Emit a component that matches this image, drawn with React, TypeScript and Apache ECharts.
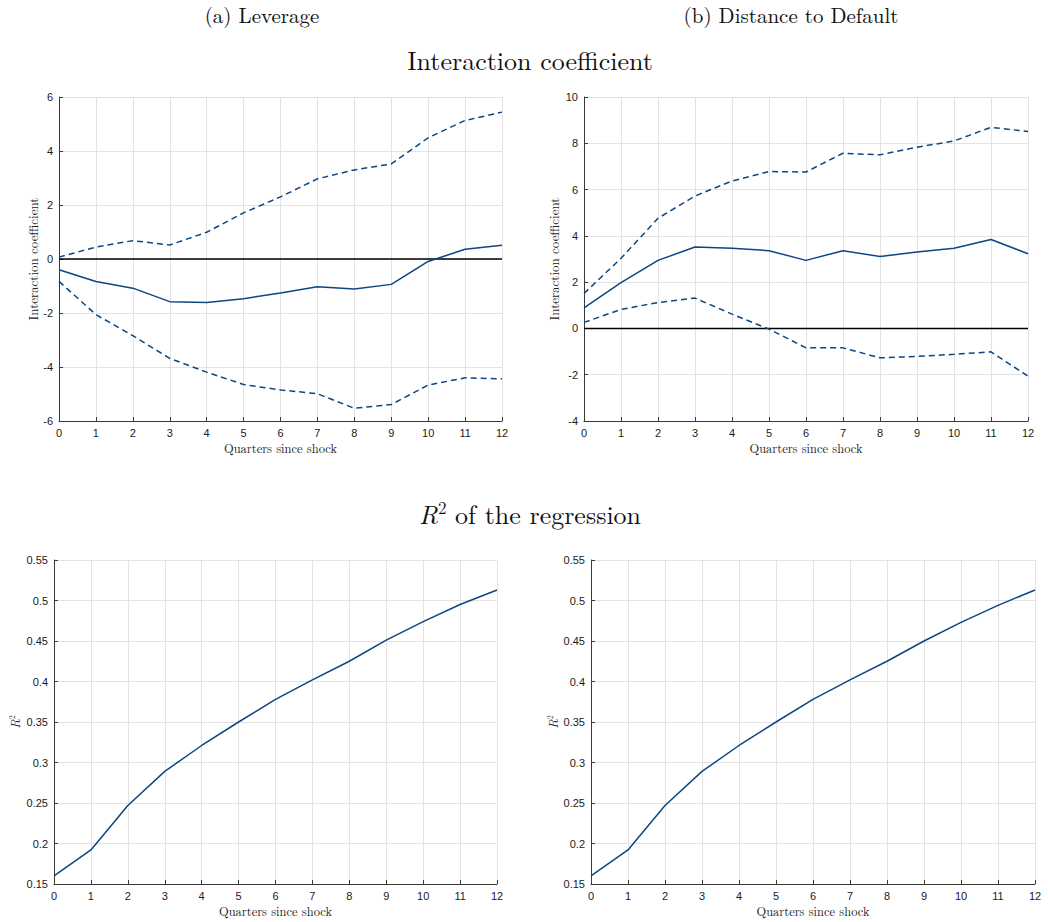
import React, { useEffect, useRef } from "react";
import * as echarts from "echarts";

const quarters = [0, 1, 2, 3, 4, 5, 6, 7, 8, 9, 10, 11, 12];

const levCoef = [-0.4, -0.83, -1.08, -1.58, -1.61, -1.47, -1.26, -1.03, -1.11, -0.94, -0.09, 0.36, 0.51];
const levUpper = [0.07, 0.44, 0.68, 0.52, 0.99, 1.71, 2.3, 2.97, 3.3, 3.52, 4.49, 5.13, 5.44];
const levLower = [-0.83, -2.06, -2.84, -3.68, -4.19, -4.65, -4.85, -4.99, -5.53, -5.39, -4.67, -4.4, -4.44];

const ddCoef = [0.89, 1.98, 2.94, 3.52, 3.46, 3.36, 2.94, 3.36, 3.11, 3.3, 3.46, 3.84, 3.23];
const ddUpper = [1.51, 3.03, 4.76, 5.72, 6.37, 6.78, 6.76, 7.57, 7.5, 7.83, 8.1, 8.69, 8.51];
const ddLower = [0.26, 0.82, 1.12, 1.31, 0.62, -0.03, -0.84, -0.84, -1.27, -1.21, -1.12, -1.01, -2.06];

const levR2 = [0.16, 0.192, 0.247, 0.289, 0.321, 0.35, 0.378, 0.402, 0.425, 0.451, 0.474, 0.495, 0.513];
const ddR2 = [0.16, 0.192, 0.247, 0.289, 0.321, 0.35, 0.378, 0.402, 0.425, 0.45, 0.473, 0.494, 0.513];

const panelTitles = ["(a) Leverage", "(b) Distance to Default"];
const xName = "Quarters since shock";
const coefName = "Interaction coefficient";

const BLUE = "#0d4682";
const SERIF = "'Latin Modern Roman', 'CMU Serif', 'DejaVu Serif', serif";
const SANS = "'Liberation Sans', Arial, Helvetica, sans-serif";

function pairs(vals: number[]) {
  return quarters.map((q, i) => [q, vals[i]]);
}

export default function App() {
  const ref = useRef<HTMLDivElement>(null);
  useEffect(() => {
    if (!ref.current) return;
    const chart = echarts.init(ref.current, null, { renderer: "svg" });

    const grids = [
      { left: 59, top: 97, width: 443, height: 324 },
      { left: 584, top: 97, width: 444, height: 324 },
      { left: 54, top: 560, width: 443, height: 324 },
      { left: 591, top: 560, width: 444, height: 324 },
    ];

    const xAxes = grids.map((_, i) => ({
      type: "value",
      gridIndex: i,
      min: 0,
      max: 12,
      interval: 1,
      name: xName,
      nameLocation: "middle",
      nameGap: 20,
      nameTextStyle: { fontFamily: SERIF, fontSize: 12.5, color: "#222", lineHeight: 13 },
      axisLine: { show: true, onZero: false, lineStyle: { color: "#3a3a3a", width: 1 } },
      axisTick: { show: true, inside: true, length: 4, lineStyle: { color: "#3a3a3a" } },
      axisLabel: { fontFamily: SANS, fontSize: 11, color: "#1a1a1a", margin: 6, lineHeight: 12 },
      splitLine: { show: true, lineStyle: { color: "#e3e3e3", width: 1 } },
    }));

    const yCommon = {
      type: "value",
      axisLine: { show: true, lineStyle: { color: "#3a3a3a", width: 1 } },
      axisTick: { show: true, inside: true, length: 4, lineStyle: { color: "#3a3a3a" } },
      axisLabel: { fontFamily: SANS, fontSize: 11, color: "#1a1a1a", margin: 6 },
      splitLine: { show: true, lineStyle: { color: "#e3e3e3", width: 1 } },
      nameLocation: "middle",
    };

    const r2Name = "{i|R}{s|2}";
    const r2Rich = {
      i: { fontFamily: SERIF, fontStyle: "italic", fontSize: 13, color: "#222" },
      s: { fontFamily: SERIF, fontSize: 8, color: "#222", verticalAlign: "top", padding: [0, 0, 7, 0] },
    };

    const yAxes = [
      { ...yCommon, gridIndex: 0, min: -6, max: 6, interval: 2, name: coefName, nameGap: 20,
        nameTextStyle: { fontFamily: SERIF, fontSize: 13, color: "#222" } },
      { ...yCommon, gridIndex: 1, min: -4, max: 10, interval: 2, name: coefName, nameGap: 24,
        nameTextStyle: { fontFamily: SERIF, fontSize: 13, color: "#222" } },
      { ...yCommon, gridIndex: 2, min: 0.15, max: 0.55, interval: 0.05, name: r2Name, nameGap: 32,
        nameTextStyle: { rich: r2Rich } },
      { ...yCommon, gridIndex: 3, min: 0.15, max: 0.55, interval: 0.05, name: r2Name, nameGap: 31,
        nameTextStyle: { rich: r2Rich } },
    ];

    const solid = (idx: number, data: number[]) => ({
      type: "line",
      xAxisIndex: idx,
      yAxisIndex: idx,
      data: pairs(data),
      showSymbol: false,
      symbol: "none",
      lineStyle: { color: BLUE, width: 1.5 },
      z: 3,
    });
    const dashed = (idx: number, data: number[]) => ({
      type: "line",
      xAxisIndex: idx,
      yAxisIndex: idx,
      data: pairs(data),
      showSymbol: false,
      symbol: "none",
      lineStyle: { color: BLUE, width: 1.5, type: [6, 4] },
      z: 3,
    });
    const zeroLine = (idx: number) => ({
      type: "line",
      xAxisIndex: idx,
      yAxisIndex: idx,
      data: [[0, 0], [12, 0]],
      showSymbol: false,
      symbol: "none",
      lineStyle: { color: "#000", width: 1.5 },
      z: 2,
    });

    const series = [
      zeroLine(0),
      dashed(0, levUpper),
      solid(0, levCoef),
      dashed(0, levLower),
      zeroLine(1),
      dashed(1, ddUpper),
      solid(1, ddCoef),
      dashed(1, ddLower),
      solid(2, levR2),
      solid(3, ddR2),
    ];

    chart.setOption({
      animation: false,
      backgroundColor: "#fff",
      grid: grids,
      xAxis: xAxes,
      yAxis: yAxes,
      series,
      graphic: [
        { type: "text", x: 262, y: 14, style: { text: panelTitles[0], font: `21px ${SERIF}`, fill: "#111", textAlign: "center", textVerticalAlign: "middle" } },
        { type: "text", x: 791, y: 14, style: { text: panelTitles[1], font: `21px ${SERIF}`, fill: "#111", textAlign: "center", textVerticalAlign: "middle" } },
        { type: "text", x: 530, y: 59, style: { text: "Interaction coefficient", font: `26px ${SERIF}`, fill: "#111", textAlign: "center", textVerticalAlign: "middle" } },
        {
          type: "text",
          x: 530,
          y: 513,
          style: {
            text: "{i|R}{s|2}{n| of the regression}",
            textAlign: "center",
            textVerticalAlign: "middle",
            fill: "#111",
            rich: {
              i: { fontFamily: SERIF, fontStyle: "italic", fontSize: 26, fill: "#111" },
              s: { fontFamily: SERIF, fontSize: 17, fill: "#111", verticalAlign: "top", padding: [0, 0, 12, 0] },
              n: { fontFamily: SERIF, fontSize: 26, fill: "#111" },
            },
          },
        },
      ],
    });
    return () => chart.dispose();
  }, []);
  return <div ref={ref} style={{ position: "absolute", left: 0, top: 0, width: 1048, height: 922 }} />;
}
